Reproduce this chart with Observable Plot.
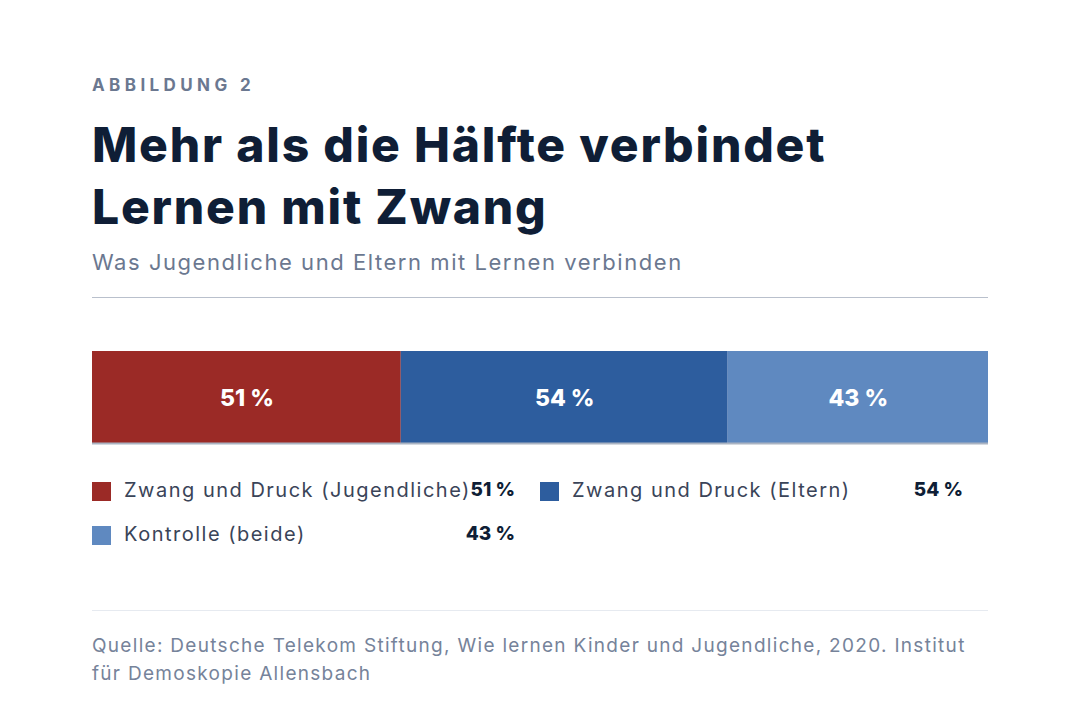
<!DOCTYPE html>
<html><head><meta charset="utf-8">
<script src="https://cdn.jsdelivr.net/npm/d3@7"></script>
<script src="https://cdn.jsdelivr.net/npm/@observablehq/plot@0.6"></script>
<style>
html,body{margin:0;padding:0;background:#fff;}
body{width:1080px;height:714px;overflow:hidden;font-family:Inter, "Noto Sans", sans-serif;}
#wrap{position:absolute;left:92px;top:0;width:896px;}
.kicker{position:absolute;top:75px;left:0;font-size:17px;font-weight:700;letter-spacing:4.4px;color:#6b7890;white-space:nowrap;}
.title{position:absolute;top:114px;left:0;font-size:48px;font-weight:800;line-height:62px;color:#0f1e36;letter-spacing:1.8px;white-space:nowrap;}
.sub{position:absolute;top:249px;left:0;font-size:22px;color:#6b7890;font-weight:400;letter-spacing:1.55px;white-space:nowrap;}
.hr{position:absolute;top:297px;left:0;width:896px;height:1px;background:#b9c0cc;}
#chart{position:absolute;top:351px;left:0;}
.legend{position:absolute;top:478px;left:0;width:896px;}
.item{position:absolute;height:26px;font-size:20px;color:#3a4458;}
.sw{position:absolute;left:0;top:4px;width:19px;height:19px;}
.lab{position:absolute;left:32px;top:0;white-space:nowrap;letter-spacing:1.5px;}
.val{position:absolute;right:0;top:0;font-weight:800;color:#0f1e36;white-space:nowrap;font-size:19px;}
.hr2{position:absolute;top:610px;left:0;width:896px;height:1px;background:#e6eaf0;}
.src{position:absolute;top:632px;left:0;width:900px;font-size:19px;line-height:28px;color:#76839a;letter-spacing:1.3px;white-space:nowrap;}
</style></head>
<body>
<div id="wrap">
<div class="kicker">ABBILDUNG 2</div>
<div class="title">Mehr als die Hälfte verbindet<br>Lernen mit Zwang</div>
<div class="sub">Was Jugendliche und Eltern mit Lernen verbinden</div>
<div class="hr"></div>
<div id="chart"></div>
<div class="legend" id="legend"></div>
<div class="hr2"></div>
<div class="src">Quelle: Deutsche Telekom Stiftung, Wie lernen Kinder und Jugendliche, 2020. Institut<br>für Demoskopie Allensbach</div>
</div>
<script>
const categories = ["Zwang und Druck (Jugendliche)", "Zwang und Druck (Eltern)", "Kontrolle (beide)"];
const values = [51, 54, 43];
const palette = ["#9b2a26", "#2d5d9e", "#5f89c0"];

const data = categories.map((c, i) => ({category: c, value: values[i]}));

const chart = Plot.plot({
  width: 896,
  height: 94,
  marginTop: 0, marginBottom: 2, marginLeft: 0, marginRight: 0,
  x: {axis: null, domain: [0, d3.sum(values)]},
  color: {domain: categories, range: palette},
  marks: [
    Plot.barX(data, Plot.stackX({x: "value", fill: "category", order: null})),
    Plot.text(data, Plot.stackX({x: "value", text: d => d.value + " %", fill: "white", fontSize: 23, fontWeight: 800, order: null, dy: 1, fontFamily: "Inter"})),
    Plot.frame({anchor: "bottom", stroke: "#aab3c2", strokeWidth: 2})
  ]
});
document.getElementById("chart").appendChild(chart);

const legend = document.getElementById("legend");
const pos = [{left: 0, top: 0, width: 423}, {left: 448, top: 0, width: 423}, {left: 0, top: 44, width: 423}];
categories.forEach((c, i) => {
  const it = document.createElement("div");
  it.className = "item";
  it.style.left = pos[i].left + "px";
  it.style.top = pos[i].top + "px";
  it.style.width = pos[i].width + "px";
  it.innerHTML = `<div class="sw" style="background:${palette[i]}"></div><div class="lab">${c}</div><div class="val">${values[i]} %</div>`;
  legend.appendChild(it);
});
</script>
</body></html>
